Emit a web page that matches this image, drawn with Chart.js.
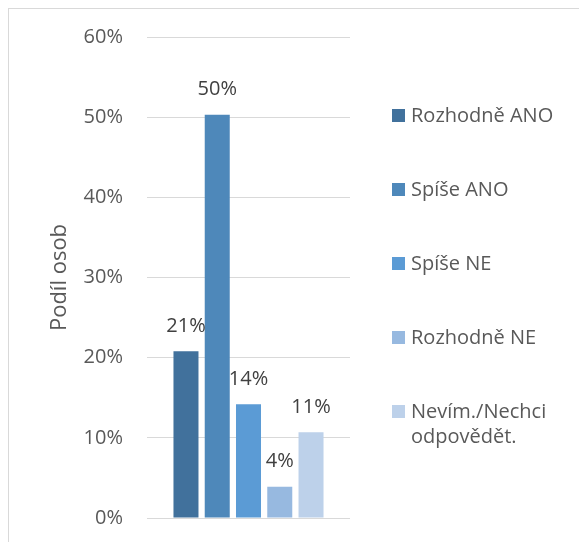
<!DOCTYPE html>
<html>
<head>
<meta charset="utf-8">
<script src="https://cdn.jsdelivr.net/npm/chart.js@4/dist/chart.umd.min.js"></script>
<style>
  body { margin: 0; overflow: hidden; background: #fff; }
  #wrap { position: relative; width: 579px; height: 542px; }
  #frame { position: absolute; left: 8px; top: 8px; width: 700px; height: 700px; border: 1px solid #d9d9d9; }
  #chart { position: absolute; left: 0; top: 0; }
</style>
</head>
<body>
<div id="wrap">
  <div id="frame"></div>
  <canvas id="chart" width="579" height="542"></canvas>
</div>
<script>
// answers and their shares (in %)
const answers = ['Rozhodně ANO', 'Spíše ANO', 'Spíše NE', 'Rozhodně NE', 'Nevím./Nechci odpovědět.'];
const shares = [20.8, 50.3, 14.2, 3.9, 10.7];
const colors = ['#41719c', '#4e88ba', '#5b9bd5', '#97b9e0', '#bdd1ea'];
const yTicks = [0, 10, 20, 30, 40, 50, 60];

const fontFamily = '"Open Sans", sans-serif';
const textGray = '#595959';

// value labels above the bars
const barLabels = {
    id: 'barLabels',
    afterDatasetsDraw(chart) {
        const ctx = chart.ctx;
        ctx.save();
        ctx.font = '20px ' + fontFamily;
        ctx.fillStyle = '#404040';
        ctx.textAlign = 'center';
        ctx.textBaseline = 'middle';
        chart.data.datasets.forEach((ds, i) => {
            const bar = chart.getDatasetMeta(i).data[0];
            ctx.fillText(Math.round(ds.data[0]) + '%', bar.x, bar.y - 25);
        });
        ctx.restore();
    }
};

// legend on the right, with wrapped labels
const sideLegend = {
    id: 'sideLegend',
    afterDraw(chart) {
        const ctx = chart.ctx;
        ctx.save();
        ctx.font = '20px ' + fontFamily;
        ctx.textBaseline = 'middle';
        const x = 392, startY = 116, step = 74, maxW = 160;
        chart.data.datasets.forEach((ds, i) => {
            const y = startY + i * step;
            ctx.fillStyle = ds.backgroundColor;
            ctx.fillRect(x, y - 7, 13, 13);
            // simple word wrap
            const words = ds.label.split(' ');
            const lines = [];
            let line = '';
            words.forEach(w => {
                const test = line ? line + ' ' + w : w;
                if (ctx.measureText(test).width > maxW && line) {
                    lines.push(line);
                    line = w;
                } else {
                    line = test;
                }
            });
            lines.push(line);
            ctx.fillStyle = textGray;
            lines.forEach((l, j) => ctx.fillText(l, x + 19, y + j * 25));
        });
        ctx.restore();
    }
};

new Chart(document.getElementById('chart'), {
    type: 'bar',
    data: {
        labels: [''],
        datasets: answers.map((a, i) => ({
            label: a,
            data: [shares[i]],
            backgroundColor: colors[i]
        }))
    },
    options: {
        responsive: false,
        animation: false,
        categoryPercentage: 0.77,
        barPercentage: 0.8,
        layout: { padding: { top: 37, bottom: 24, right: 229, left: 0 } },
        plugins: {
            legend: { display: false },
            tooltip: { enabled: false }
        },
        scales: {
            x: { display: false },
            y: {
                min: 0,
                max: 60,
                afterBuildTicks(scale) {
                    scale.ticks = yTicks.map(v => ({ value: v }));
                },
                afterFit(scale) {
                    scale.width = 147;
                    scale.paddingTop = 0;
                    scale.paddingBottom = 0;
                },
                border: { display: false },
                grid: { color: '#d9d9d9', lineWidth: 1, drawTicks: false },
                ticks: {
                    padding: 24,
                    color: textGray,
                    font: { family: fontFamily, size: 20 },
                    callback: v => v + '%'
                },
                title: {
                    display: true,
                    text: 'Podíl osob',
                    color: textGray,
                    font: { family: fontFamily, size: 22 },
                    padding: { top: 47, bottom: 0 }
                }
            }
        }
    },
    plugins: [barLabels, sideLegend]
});
</script>
</body>
</html>
